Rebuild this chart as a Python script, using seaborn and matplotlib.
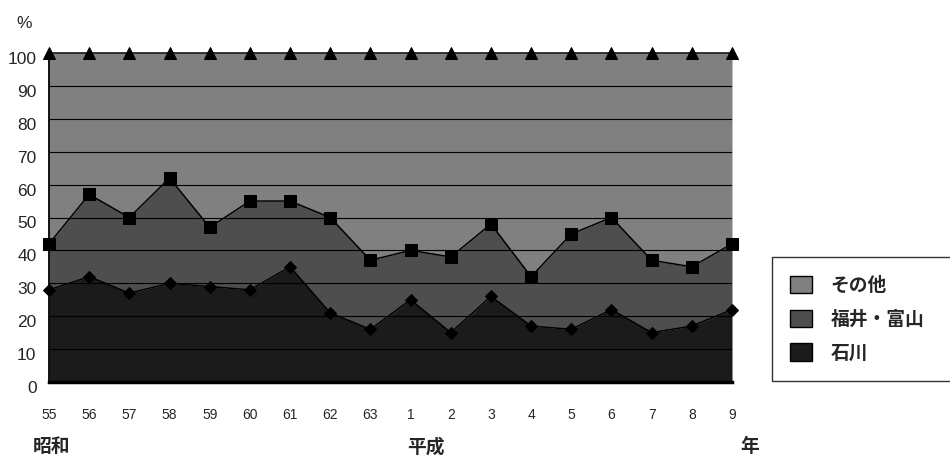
import numpy as np
import matplotlib
matplotlib.use("Agg")
import matplotlib.pyplot as plt
import matplotlib.transforms as mtransforms
from matplotlib.patches import Patch
import seaborn as sns

# 年度 (昭和55〜63, 平成1〜9)
years = ["55", "56", "57", "58", "59", "60", "61", "62", "63",
         "1", "2", "3", "4", "5", "6", "7", "8", "9"]
# 構成比 (%)
ishikawa = [28, 32, 27, 30, 29, 28, 35, 21, 16, 25, 15, 26, 17, 16, 22, 15, 17, 22]
fukui_toyama = [14, 25, 23, 32, 18, 27, 20, 29, 21, 15, 23, 22, 15, 29, 28, 22, 18, 20]
sonota = [58, 43, 50, 38, 53, 45, 45, 50, 63, 60, 62, 52, 68, 55, 50, 63, 65, 58]
labels = ["石川", "福井・富山", "その他"]
colors = ["#1b1b1b", "#4e4e4e", "#808080"]

sns.set_theme(style="white")
plt.rcParams["font.family"] = ["Liberation Sans", "Noto Sans CJK JP"]

x = np.arange(len(years))
s1 = np.array(ishikawa)
s2 = s1 + np.array(fukui_toyama)
s3 = s2 + np.array(sonota)

fig = plt.figure(figsize=(9.5, 4.57), dpi=100)
ax = fig.add_axes([49 / 950, 1 - 382 / 457, (732 - 49) / 950, (382 - 53) / 457])

ax.fill_between(x, 0, s1, color=colors[0], lw=0, zorder=1)
ax.fill_between(x, s1, s2, color=colors[1], lw=0, zorder=1)
ax.fill_between(x, s2, s3, color=colors[2], lw=0, zorder=1)

for v in range(10, 100, 10):
    ax.axhline(v, color="black", lw=0.8, zorder=2)

sns.lineplot(x=x, y=s1, ax=ax, color="black", lw=1.1, marker="D",
             markersize=6, markeredgecolor="black", zorder=3, clip_on=False)
sns.lineplot(x=x, y=s2, ax=ax, color="black", lw=1.1, marker="s",
             markersize=8, markeredgecolor="black", zorder=3, clip_on=False)
sns.lineplot(x=x, y=s3, ax=ax, color="black", lw=1.1, marker="^",
             markersize=8, markeredgecolor="black", zorder=3, clip_on=False)

ax.set_xlim(0, len(years) - 1)
ax.set_ylim(0, 100)
ax.set_yticks(range(0, 101, 10))
ax.set_xticks(x)
ax.set_xticklabels(years, fontsize=10)
ax.tick_params(axis="y", labelsize=12.5, length=0, pad=9)
ax.tick_params(axis="x", length=0, pad=19)
off = mtransforms.ScaledTranslation(0, -5 / 100, fig.dpi_scale_trans)
for lab in ax.get_yticklabels():
    lab.set_transform(lab.get_transform() + off)

for side in ["top", "right"]:
    ax.spines[side].set_visible(False)
ax.spines["left"].set_color("black")
ax.spines["left"].set_linewidth(1.3)
ax.spines["bottom"].set_color("black")
ax.spines["bottom"].set_linewidth(2.5)
ax.spines["left"].set_zorder(4)
ax.spines["bottom"].set_zorder(4)

fig.text(24 / 950, 1 - 24 / 457, "%", fontsize=12.5, ha="center", va="center")
fig.text(52 / 950, 1 - 447 / 457, "昭和", fontsize=13.5, fontweight="bold",
         ha="center", va="center")
fig.text(426 / 950, 1 - 447 / 457, "平成", fontsize=13.5, fontweight="bold",
         ha="center", va="center")
fig.text(750 / 950, 1 - 447 / 457, "年", fontsize=13.5, fontweight="bold",
         ha="center", va="center")

handles = [Patch(facecolor=colors[i], edgecolor="black", lw=1.0, label=labels[i])
           for i in [2, 1, 0]]
leg = fig.legend(handles=handles, loc="upper left",
                 bbox_to_anchor=(772 / 950, 1 - 262 / 457, 300 / 950, 0.01),
                 bbox_transform=fig.transFigure, mode="expand",
                 prop={"size": 13.5, "weight": "bold"}, frameon=True,
                 fancybox=False, borderpad=0.98, labelspacing=0.78,
                 handlelength=1.15, handleheight=1.05, handletextpad=1.0,
                 borderaxespad=0)
leg.get_frame().set_edgecolor("black")
leg.get_frame().set_linewidth(1.0)

fig.savefig("out.png", dpi=100)
